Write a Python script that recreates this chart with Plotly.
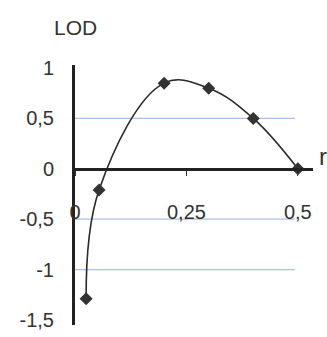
import plotly.graph_objects as go

r_vals = [0.025, 0.054, 0.20, 0.30, 0.40, 0.50]
lod_vals = [-1.29, -0.21, 0.85, 0.80, 0.50, 0.0]

x_ticks = [0, 0.25, 0.5]
x_labels = ["0", "0,25", "0,5"]
y_ticks = [1, 0.5, 0, -0.5, -1, -1.5]
y_labels = ["1", "0,5", "0", "-0,5", "-1", "-1,5"]
grid_levels = [0.5, -0.5, -1]

y_min, y_max = -1.55, 1.03
zero_pos = (0 - y_min) / (y_max - y_min)

fig = go.Figure()
fig.add_trace(go.Scatter(
    x=r_vals, y=lod_vals, mode="lines+markers",
    line=dict(color="#2a2a2a", width=1.6, shape="spline", smoothing=1.1),
    marker=dict(symbol="diamond", size=10, color="#333333"),
    showlegend=False, cliponaxis=False,
))

for g in grid_levels:
    fig.add_shape(type="line", xref="x", yref="y", x0=0, x1=0.493, y0=g, y1=g,
                  line=dict(color="#a8c2e2", width=1.2), layer="below")

fig.update_layout(
    width=327, height=337,
    margin=dict(l=75, r=14, t=65, b=6),
    paper_bgcolor="white", plot_bgcolor="white",
    font=dict(family="Liberation Sans, Arial, sans-serif", size=20, color="#333333"),
    xaxis=dict(range=[0, 0.534], tickvals=x_ticks, ticktext=x_labels,
               showgrid=False, zeroline=False, showline=True, linecolor="#222222",
               linewidth=3, anchor="free", position=zero_pos, ticks="outside",
               ticklen=5, tickcolor="#333333", tickwidth=1,
               ticklabelstandoff=19, ticklabeloverflow="allow", fixedrange=True),
    yaxis=dict(range=[y_min, y_max], tickvals=y_ticks, ticktext=y_labels,
               showgrid=False, zeroline=False, showline=True, linecolor="#222222",
               linewidth=3, ticks="", ticklabelstandoff=14,
               ticklabeloverflow="allow", fixedrange=True),
    annotations=[
        dict(text="LOD", xref="paper", yref="paper", x=0, y=1, yshift=38,
             xanchor="center", yanchor="middle", showarrow=False,
             font=dict(size=21, color="#333333")),
        dict(text="r", xref="paper", yref="y", x=1, y=0, xshift=4, yshift=12,
             xanchor="left", yanchor="middle", showarrow=False,
             font=dict(size=24, color="#333333")),
    ],
)

fig.write_html("out.html")
